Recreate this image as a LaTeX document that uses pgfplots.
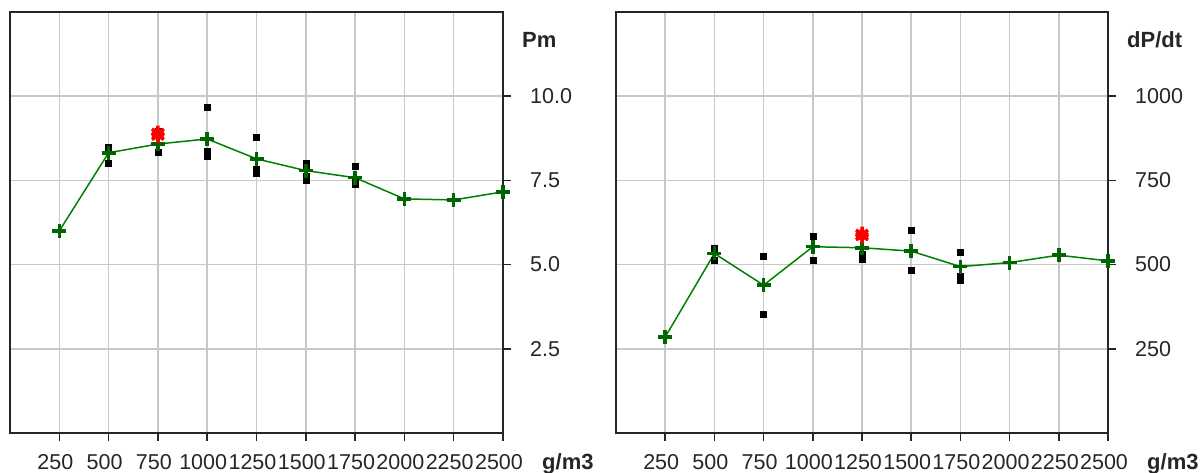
\documentclass[border=0pt]{standalone}
\usepackage{pgfplots}
\pgfplotsset{compat=1.18}
\usepackage{fontspec}
\setmainfont{Liberation Sans}
\definecolor{gridgray}{RGB}{200,200,200}
\definecolor{lgreen}{RGB}{0,128,0}
\definecolor{mgreen}{RGB}{0,100,0}
\pgfplotsset{
  panel/.style={
    anchor=south west, scale only axis, width=493bp, height=421bp,
    xmin=0, xmax=2500, ymin=0,
    xtick={250,500,750,1000,1250,1500,1750,2000,2250,2500},
    xticklabels={250,500,750,1000,1250,1500,1750,2000,2250,2500},
    grid=major, grid style={color=gridgray, line width=1.5bp},
    axis line style={line width=1.8bp, color=black!85},
    xtick pos=lower, ytick pos=right, yticklabel pos=right,
    tick align=outside, major tick length=8bp,
    tick style={line width=1.5bp, color=black!85},
    /pgf/number format/assume math mode=true,
    xticklabel style={font=\fontsize{21.5bp}{24bp}\selectfont, text=black!85, anchor=base, inner sep=0pt, yshift=-28bp, xshift=-4bp},
    yticklabel style={font=\fontsize{21.5bp}{24bp}\selectfont, text=black!85, anchor=west, inner sep=0pt, xshift=19bp},
    clip=false,
  },
  blkpts/.style={only marks, mark=square*, mark size=3bp, color=black},
  redpts/.style={only marks, mark=asterisk, mark size=7bp, line width=3.5bp, color=red},
  grnpts/.style={color=lgreen, line width=1.5bp, mark=+, mark size=7bp,
     mark options={color=mgreen, line width=3.5bp}},
}
\begin{document}
\begin{tikzpicture}
\path[use as bounding box] (0,0) rectangle (1203bp,473bp);
\begin{axis}[panel, at={(10bp,40bp)}, ymax=12.5,
  ytick={2.5,5,7.5,10}, yticklabels={2.5,5.0,7.5,10.0}]
\addplot[blkpts] coordinates {(500,8.5) (500,8.0) (750,8.95) (750,8.35)
  (1000,9.66) (1000,8.37) (1000,8.22) (1250,8.77) (1250,7.82) (1250,7.72)
  (1500,8.02) (1500,7.9) (1500,7.62) (1500,7.51) (1750,7.93) (1750,7.45) (1750,7.39)};
\addplot[grnpts] coordinates {(250,6.00) (500,8.32) (750,8.58) (1000,8.73) (1250,8.14)
  (1500,7.79) (1750,7.58) (2000,6.95) (2250,6.92) (2500,7.16)};
\addplot[redpts] coordinates {(750,8.92) (750,8.82)};
\node[anchor=base west, inner sep=0pt, font=\fontsize{22bp}{26bp}\selectfont\bfseries, text=black!85]
  at (rel axis cs:1,1) [xshift=19bp, yshift=-36bp] {Pm};
\node[anchor=base west, inner sep=0pt, font=\fontsize{22bp}{26bp}\selectfont\bfseries, text=black!85]
  at (rel axis cs:1,0) [xshift=39bp, yshift=-36bp] {g/m3};
\end{axis}
\begin{axis}[panel, at={(616bp,40bp)}, width=492bp, ymax=1250,
  ytick={250,500,750,1000}, yticklabels={250,500,750,1000}]
\addplot[blkpts] coordinates {(500,550) (500,514) (750,525) (750,352)
  (1000,583) (1000,513) (1250,530) (1250,516) (1500,603) (1500,483)
  (1750,536) (1750,465) (1750,455)};
\addplot[grnpts] coordinates {(250,285) (500,533) (750,439) (1000,553) (1250,550)
  (1500,540) (1750,494) (2000,506) (2250,528) (2500,511)};
\addplot[redpts] coordinates {(1250,592) (1250,584)};
\node[anchor=base west, inner sep=0pt, font=\fontsize{22bp}{26bp}\selectfont\bfseries, text=black!85]
  at (rel axis cs:1,1) [xshift=19bp, yshift=-36bp] {dP/dt};
\node[anchor=base west, inner sep=0pt, font=\fontsize{22bp}{26bp}\selectfont\bfseries, text=black!85]
  at (rel axis cs:1,0) [xshift=39bp, yshift=-36bp] {g/m3};
\end{axis}
\end{tikzpicture}
\end{document}
